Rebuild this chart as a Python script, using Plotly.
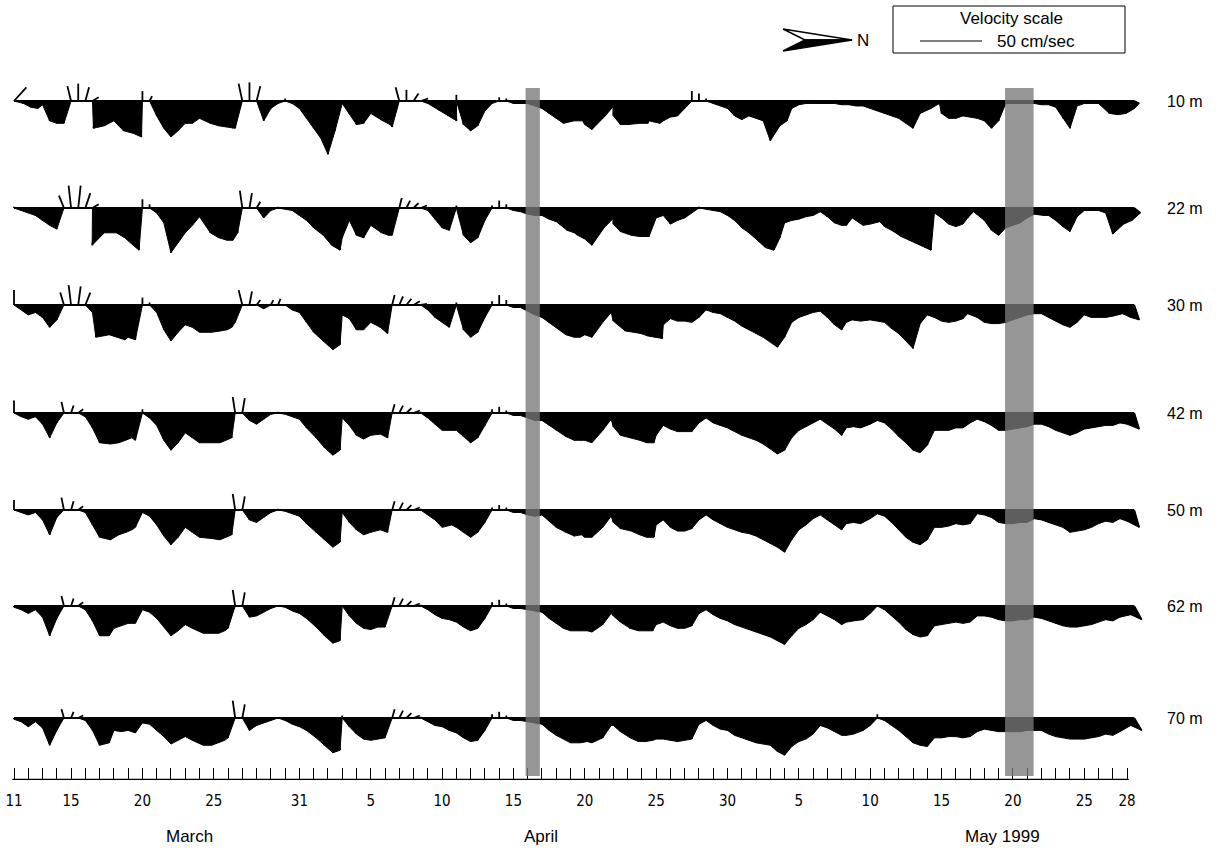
import plotly.graph_objects as go

# ---------------- data ----------------
depth_labels = ["10 m", "22 m", "30 m", "42 m", "50 m", "62 m", "70 m"]
# sampling times: days after 11 March 1999 00:00, every 12 hours
sample_days = [k / 2 for k in range(158)]

# velocity components in cm/s ; east is drawn downward, north to the right
east_10 = [-11,2,5,6,3,16,18,18,-12,-14,-11,-3,22,20,16,24,26,29,-8,-4,
           12,22,29,24,18,18,14,18,20,21,22,22,-14,-15,-12,16,6,2,-2,2,
           6,14,22,30,43,24,2,10,19,18,10,16,19,21,-11,-9,-6,-2,2,8,
           12,16,-5,19,24,20,8,2,-3,-2,2,2,2,4,6,10,14,18,16,16,
           19,23,12,4,12,19,19,18,18,16,18,16,13,12,6,-8,-6,-2,2,4,
           6,12,15,12,14,16,32,20,16,6,3,2,2,2,2,2,3,3,4,4,
           6,8,10,12,14,18,22,10,6,2,10,14,14,12,13,14,16,22,16,2,
           2,2,2,2,3,3,5,14,22,4,2,2,2,10,11,10,6,2]
north_10 = [10,2,2,2,0,0,0,0,-3,0,3,5,-5,-2,0,2,4,5,0,2,
            0,0,0,0,0,0,0,3,4,5,4,0,-3,0,3,0,0,0,0,0,
            0,0,0,0,0,0,0,0,0,0,0,4,4,0,-3,0,4,6,0,4,
            5,6,0,0,0,0,0,0,0,0,0,0,0,0,0,0,0,0,3,4,
            0,0,5,6,0,0,0,4,5,0,3,0,0,0,0,0,0,0,0,0,
            0,0,0,0,0,0,0,2,2,0,0,0,0,0,0,0,0,0,0,0,
            0,0,0,0,0,0,0,0,3,4,0,0,0,0,0,0,0,0,0,0,
            0,0,0,0,0,0,0,0,0,0,0,0,0,3,4,5,6,4]

east_22 = [-1,2,4,6,10,14,17,-10,-18,-18,-12,-3,30,20,20,24,30,34,-7,-3,
           4,12,36,28,20,14,7,20,24,26,26,20,-14,-12,-5,8,2,-1,1,2,
           6,10,16,22,30,34,24,10,22,24,14,20,22,22,-8,-6,-4,-2,2,9,
           16,18,-2,22,28,24,10,-2,-6,-3,2,3,5,6,6,9,11,18,20,22,
           25,30,16,8,13,19,22,23,23,23,8,6,13,10,8,4,-1,1,2,3,
           6,10,16,20,25,32,34,24,12,10,9,7,6,3,7,12,14,14,8,14,
           13,11,15,18,23,26,29,32,34,4,8,13,15,13,8,3,10,18,22,16,
           14,12,8,5,6,6,10,15,19,7,2,2,2,4,21,13,10,4]
north_22 = [0,0,0,0,0,0,0,-4,-2,2,4,5,-6,-2,2,3,4,3,0,0,
            0,0,0,0,0,0,0,3,4,5,4,2,-2,2,3,0,0,0,0,0,
            0,0,0,2,3,4,0,0,0,0,0,3,3,0,2,3,4,5,0,0,
            0,0,0,0,0,0,0,0,0,0,0,0,0,0,0,0,0,3,3,0,
            0,0,4,6,0,0,3,4,4,0,0,0,0,0,0,0,0,0,0,0,
            0,0,0,0,0,2,3,2,0,0,0,0,0,0,0,0,0,-2,-3,0,
            0,2,0,0,2,3,4,4,3,0,0,0,0,0,-2,-3,0,0,0,0,
            0,0,0,0,2,0,0,0,0,0,0,0,0,0,0,3,4,5]

east_30 = [-12,4,8,6,10,18,12,-10,-16,-15,-10,6,26,24,26,28,26,28,-6,-2,
           6,20,29,22,16,18,22,22,21,20,18,14,-12,-11,-4,3,-4,-5,0,4,
           6,14,22,30,36,32,8,11,20,20,14,18,23,-8,-7,-5,-3,-1,4,10,
           14,18,-2,20,26,22,10,-3,-8,-4,2,2,5,8,10,14,18,24,26,26,
           24,26,14,6,13,21,22,23,25,26,27,16,11,13,13,14,10,4,6,7,
           10,13,17,20,23,26,30,34,26,14,10,8,6,5,10,16,20,14,12,13,
           12,13,14,19,23,29,35,15,8,10,13,14,13,11,7,10,14,15,15,14,
           12,10,8,7,7,10,13,16,18,14,8,10,10,10,9,7,10,12]
north_30 = [0,0,0,0,0,0,0,-3,-2,2,4,0,-3,2,3,3,0,0,0,0,
            0,0,0,0,0,0,0,4,5,5,3,0,-3,2,3,0,2,2,0,0,
            0,0,0,3,4,4,0,0,0,0,0,2,2,2,3,4,5,5,0,0,
            0,0,0,0,0,0,0,0,0,0,0,0,0,0,0,0,0,2,3,2,
            0,0,3,4,0,4,5,5,5,5,5,0,0,0,0,0,0,0,0,0,
            0,0,0,0,0,0,0,0,0,0,0,0,0,0,0,0,0,-2,-3,-2,
            0,0,0,0,0,0,0,0,0,0,0,0,0,0,-2,0,0,0,0,0,
            0,0,0,0,0,0,0,0,0,0,0,0,0,0,0,2,3,4]

east_42 = [-10,3,5,3,9,20,8,-9,-6,-3,3,12,24,25,24,22,20,22,-3,4,
           10,22,30,24,16,20,24,24,24,22,20,-13,-12,6,9,5,1,-1,1,3,
           5,12,20,28,34,30,4,10,18,21,18,17,20,-7,-6,-4,-2,-1,4,9,
           14,14,14,19,24,20,10,-3,-5,-2,2,2,4,6,6,10,14,19,22,22,
           22,24,14,5,11,18,20,22,24,24,18,10,13,15,15,15,8,4,8,10,
           12,15,18,20,22,25,29,33,30,20,14,11,8,5,9,13,18,12,11,12,
           9,6,8,13,19,24,30,32,26,14,14,14,12,12,8,5,7,10,14,14,
           13,12,11,9,9,11,14,16,18,16,13,12,11,10,10,8,9,13]
north_42 = [0,0,0,0,0,0,0,-2,2,4,0,0,0,3,4,4,3,0,0,0,
            0,0,0,0,0,0,0,4,5,4,3,-2,2,0,0,0,0,0,0,0,
            0,0,2,3,4,4,0,0,0,0,0,2,2,2,3,4,5,0,0,0,
            0,2,0,0,0,0,0,0,0,0,0,0,0,0,0,0,0,2,3,3,
            0,0,3,4,0,0,3,4,4,4,0,0,0,0,0,0,0,0,0,0,
            0,0,0,0,0,0,0,0,0,0,0,0,0,0,0,0,0,-2,-2,-2,
            0,0,0,0,0,0,0,0,0,0,0,0,0,0,0,0,0,0,0,0,
            0,0,0,0,0,0,0,0,0,0,0,0,0,0,0,0,0,4]

east_50 = [-8,2,4,2,8,20,6,-10,-7,-3,2,12,22,24,20,18,16,14,2,5,
           12,21,28,22,14,18,22,23,24,22,20,-13,-11,8,10,6,2,-1,1,3,
           5,11,18,24,30,26,2,10,16,20,18,16,18,-7,-6,-4,-2,-1,4,8,
           14,12,14,18,22,18,10,-2,-4,-2,2,2,4,5,4,9,14,18,21,20,
           22,22,14,5,10,15,17,20,22,22,12,8,14,17,17,15,8,4,8,11,
           14,16,18,19,21,24,27,30,34,24,16,12,7,4,8,12,16,11,10,11,
           7,3,5,10,16,22,26,28,24,14,14,13,11,12,11,3,4,6,10,11,
           11,10,10,7,8,10,12,14,18,17,16,14,11,9,10,7,9,14]
north_50 = [0,0,0,0,0,0,0,-2,2,4,0,0,0,3,4,4,3,0,0,0,
            0,0,0,0,0,0,0,4,5,4,3,-2,2,0,0,0,0,0,0,0,
            0,0,2,3,4,4,0,0,0,0,0,2,2,2,3,4,5,0,0,0,
            0,2,0,0,0,0,0,0,0,0,0,0,0,0,0,0,0,2,3,3,
            0,0,3,4,0,0,3,4,4,4,0,0,0,0,0,0,0,0,0,0,
            0,0,0,0,0,0,0,0,0,0,0,0,0,0,0,0,0,-2,-2,-2,
            0,0,0,0,0,0,0,0,0,0,0,0,0,0,0,0,0,0,0,0,
            0,0,0,0,0,0,0,0,0,0,0,0,0,0,0,0,0,4]

east_62 = [1,3,6,3,9,24,10,-8,-6,-3,3,12,24,24,18,16,14,14,3,5,
           10,17,24,20,15,18,22,22,22,20,18,-13,-11,9,8,5,2,0,1,4,
           6,10,17,24,30,28,0,8,14,18,19,17,17,-7,-6,-4,-2,-1,3,7,
           10,11,13,17,20,18,10,-3,-5,-2,2,2,3,4,5,10,14,18,20,20,
           20,21,15,6,8,13,18,20,20,20,15,13,16,18,18,16,6,3,7,10,
           12,15,17,19,21,23,25,28,31,24,18,15,11,5,8,11,15,13,12,11,
           6,0,3,8,13,19,23,25,24,16,15,14,13,14,13,8,8,9,11,12,
           12,11,11,9,10,12,14,16,17,17,16,15,13,11,12,9,7,11]
north_62 = [0,0,0,0,0,0,0,-2,2,4,0,0,0,2,0,0,0,0,0,0,
            0,0,0,0,0,0,3,4,4,3,0,-2,2,0,0,0,0,0,0,0,
            0,0,2,3,4,4,0,0,0,0,0,0,0,2,3,4,5,0,0,0,
            0,0,0,0,0,0,0,0,0,0,0,0,0,0,0,0,0,0,0,2,
            2,0,3,4,0,0,2,3,3,3,0,0,0,0,0,0,0,0,0,0,
            0,0,0,0,0,0,0,0,0,0,0,0,0,0,0,0,0,-2,-2,0,
            0,0,0,0,0,0,0,0,0,0,0,0,0,0,0,0,0,0,0,0,
            0,0,0,0,0,0,0,0,0,0,0,0,0,0,0,0,3,6]

east_70 = [1,3,7,3,8,22,10,-7,-5,-2,2,10,22,20,10,11,10,12,4,5,
           10,15,21,18,15,18,22,22,20,18,16,-14,-11,10,6,4,2,0,2,5,
           7,10,16,22,28,26,-2,7,13,17,18,17,16,-7,-6,-4,-2,-1,3,6,
           7,10,12,16,19,18,10,-3,-5,-2,2,2,3,4,5,10,14,17,20,20,
           19,20,16,6,6,11,16,19,19,18,17,17,18,19,18,17,5,2,6,9,
           10,14,16,18,20,21,22,27,30,23,19,17,13,6,8,11,14,14,13,10,
           6,-3,2,6,10,15,20,22,23,16,16,15,15,16,15,11,9,10,11,11,
           11,11,10,10,10,13,15,16,17,17,17,16,15,13,14,11,6,10]
north_70 = [0,0,0,0,0,0,0,-2,2,4,0,0,0,2,0,0,0,0,0,0,
            0,0,0,0,0,0,3,4,4,3,0,-2,2,0,0,0,0,0,0,0,
            0,0,2,3,4,4,0,0,0,0,0,0,0,2,3,4,5,0,0,0,
            0,0,0,0,0,0,0,0,0,0,0,0,0,0,0,0,0,0,0,2,
            2,0,3,4,0,0,2,3,3,3,0,0,0,0,0,0,0,0,0,0,
            0,0,0,0,0,0,0,0,0,0,0,0,0,0,0,0,0,-2,-2,0,
            0,0,0,0,0,0,0,0,0,0,0,0,0,0,0,0,0,0,0,0,
            0,0,0,0,0,0,0,0,0,0,0,0,0,0,0,0,3,6]

tick_days = [0, 4, 9, 14, 20, 25, 30, 35, 40, 45, 50, 55, 60, 65, 70, 75, 78]
tick_text = ["11", "15", "20", "25", "31", "5", "10", "15", "20", "25", "30",
             "5", "10", "15", "20", "25", "28"]
day_ticks = list(range(79))
month_labels = ["March", "April", "May 1999"]
month_days = [12.3, 36.9, 69.3]
shade_start = [35.85, 69.45]
shade_end = [36.85, 71.45]
scale_speed = 50  # cm/s

rows = [(east_10, north_10), (east_22, north_22), (east_30, north_30),
        (east_42, north_42), (east_50, north_50), (east_62, north_62),
        (east_70, north_70)]
for i, (e, n) in enumerate(rows):
    if len(e) != len(sample_days) or len(n) != len(sample_days):
        raise SystemExit(f"row {depth_labels[i]}: east {len(e)} north {len(n)} days {len(sample_days)}")

# ---------------- layout constants ----------------
FIG_W, FIG_H = 1221, 860
PLOT_H = 780                 # plot area height in px; y-axis unit = 1 px
X0_PX = 14.0                 # pixel of day 0
PX_PER_DAY = 14.27
PX_PER_CMS = 62.0 / 50.0     # stick length per cm/s
ROW_Y = [101, 208, 305, 413, 510, 606, 718]
FONT = "Liberation Sans, Arial, Helvetica, sans-serif"
NARROW = "Liberation Sans Narrow, Arial Narrow, DejaVu Sans Condensed, Liberation Sans, sans-serif"


def px2day(px):
    return (px - X0_PX) / PX_PER_DAY


DAY_PER_CMS = PX_PER_CMS / PX_PER_DAY

fig = go.Figure()

for (east, north), base in zip(rows, ROW_Y):
    # filled envelope of the downward (eastward) sticks
    fx = [sample_days[0]]
    fy = [base]
    for t, e, n in zip(sample_days, east, north):
        if e > 0:
            fx.append(t + n * DAY_PER_CMS)
            fy.append(base + e * PX_PER_CMS)
        else:
            fx.append(t)
            fy.append(base)
    fx.append(sample_days[-1])
    fy.append(base)
    fig.add_trace(go.Scatter(x=fx, y=fy, mode="lines", fill="toself",
                             fillcolor="black", line=dict(color="black", width=1),
                             hoverinfo="skip", showlegend=False))
    # individual sticks
    sx, sy = [], []
    for t, e, n in zip(sample_days, east, north):
        sx += [t, t + n * DAY_PER_CMS, None]
        sy += [base, base + e * PX_PER_CMS, None]
    fig.add_trace(go.Scatter(x=sx, y=sy, mode="lines",
                             line=dict(color="black", width=1.8),
                             hoverinfo="skip", showlegend=False))
    # baseline
    fig.add_trace(go.Scatter(x=[sample_days[0], sample_days[-1]], y=[base, base],
                             mode="lines", line=dict(color="black", width=2),
                             hoverinfo="skip", showlegend=False))

# velocity scale bar (same scale as sticks)
sx0 = px2day(920)
fig.add_trace(go.Scatter(x=[sx0, sx0 + scale_speed * DAY_PER_CMS], y=[41, 41],
                         mode="lines", line=dict(color="black", width=1.2),
                         hoverinfo="skip", showlegend=False))

# north arrow (upper half open, lower half filled)
ax = [px2day(p) for p in (783, 852, 805)]
fig.add_trace(go.Scatter(x=[ax[0], ax[1], ax[2], ax[0]], y=[29, 40, 40, 29],
                         mode="lines", fill="toself", fillcolor="white",
                         line=dict(color="black", width=1.5),
                         hoverinfo="skip", showlegend=False))
fig.add_trace(go.Scatter(x=[ax[2], ax[1], ax[0], ax[2]], y=[40, 40, 51, 40],
                         mode="lines", fill="toself", fillcolor="black",
                         line=dict(color="black", width=1.5),
                         hoverinfo="skip", showlegend=False))

shapes = []
for a, b in zip(shade_start, shade_end):
    shapes.append(dict(type="rect", xref="x", yref="y", x0=a, x1=b, y0=88, y1=776,
                       fillcolor="rgba(120,120,120,0.78)", line=dict(width=0),
                       layer="above"))
# time-axis base line
shapes.append(dict(type="line", xref="x", yref="y", x0=day_ticks[0] - 0.12,
                   x1=day_ticks[-1] + 0.12, y0=779.5, y1=779.5,
                   line=dict(color="black", width=1.3)))
# legend box
shapes.append(dict(type="rect", xref="x", yref="y", x0=px2day(893), x1=px2day(1125),
                   y0=6, y1=53, line=dict(color="black", width=1), fillcolor="rgba(0,0,0,0)"))

annotations = []
for lab, base in zip(depth_labels, ROW_Y):
    annotations.append(dict(x=px2day(1165), y=base, xref="x", yref="y", text=lab,
                            showarrow=False, xanchor="left", yanchor="middle",
                            font=dict(family=FONT, size=16, color="black")))
for lab, d in zip(month_labels, month_days):
    annotations.append(dict(x=d, y=(PLOT_H - 836) / PLOT_H, xref="x", yref="paper",
                            text=lab, showarrow=False, xanchor="center", yanchor="middle",
                            font=dict(family=FONT, size=17, color="black")))
annotations.append(dict(x=px2day(1011), y=18, xref="x", yref="y", text="Velocity scale",
                        showarrow=False, xanchor="center", yanchor="middle",
                        font=dict(family=FONT, size=17, color="black")))
annotations.append(dict(x=px2day(995), y=41, xref="x", yref="y", text="50 cm/sec",
                        showarrow=False, xanchor="left", yanchor="middle",
                        font=dict(family=FONT, size=17, color="black")))
annotations.append(dict(x=px2day(855), y=40, xref="x", yref="y", text="N",
                        showarrow=False, xanchor="left", yanchor="middle",
                        font=dict(family=FONT, size=17, color="black")))

fig.update_layout(
    width=FIG_W, height=FIG_H,
    margin=dict(l=0, r=0, t=0, b=FIG_H - PLOT_H, pad=0),
    paper_bgcolor="white", plot_bgcolor="white",
    showlegend=False,
    shapes=shapes, annotations=annotations,
    xaxis=dict(range=[px2day(0), px2day(FIG_W)], showgrid=False, zeroline=False,
               showline=False, tickmode="array", tickvals=tick_days, ticktext=tick_text,
               ticks="inside", ticklen=12, tickwidth=1, tickcolor="black",
               ticklabelstandoff=10,
               tickfont=dict(family=NARROW, size=15, color="black"),
               minor=dict(tickmode="array", tickvals=day_ticks, ticks="inside",
                          ticklen=12, tickwidth=1, tickcolor="black", showgrid=False),
               fixedrange=True),
    yaxis=dict(range=[PLOT_H, 0], visible=False, fixedrange=True),
)

fig.write_html("out.html")
